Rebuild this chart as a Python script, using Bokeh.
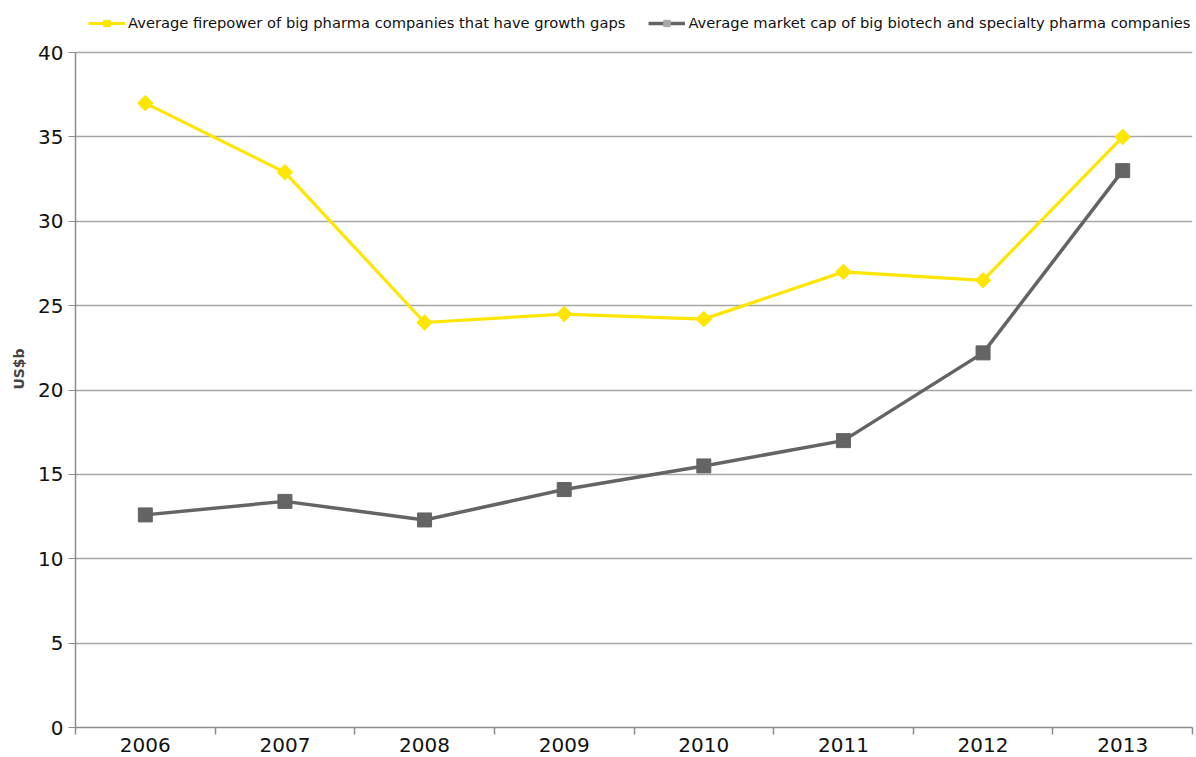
import math
from bokeh.plotting import figure
from bokeh.models import (Range1d, FixedTicker, Legend, LegendItem)
from bokeh.embed import file_html
from bokeh.resources import INLINE

years = ["2006", "2007", "2008", "2009", "2010", "2011", "2012", "2013"]
firepower = [37.0, 32.9, 24.0, 24.5, 24.2, 27.0, 26.5, 35.0]
market_cap = [12.6, 13.4, 12.3, 14.1, 15.5, 17.0, 22.2, 33.0]
y_ticks = [0, 5, 10, 15, 20, 25, 30, 35, 40]

label_firepower = "Average firepower of big pharma companies that have growth gaps"
label_mcap = "Average market cap of big biotech and specialty pharma companies"

YELLOW = "#FFE600"
GRAY = "#646464"
LIGHT = "#A8A8A8"
GRID = "#A6A6A6"
AXIS = "#8C8C8C"

xs = [i + 0.5 for i in range(len(years))]
bounds = list(range(len(years) + 1))

# frame spans from the legend strip down to 0; the axis itself stops at 40
FRAME_H = 717
Y_TOP = 40 + 42 / 16.875
p = figure(frame_width=1117, frame_height=FRAME_H, output_backend="svg", toolbar_location=None,
           x_range=Range1d(0, len(years)), y_range=Range1d(0, Y_TOP),
           min_border_left=75, min_border_right=2, min_border_top=10, min_border_bottom=0)
p.outline_line_color = None
p.background_fill_color = "white"
p.border_fill_color = "white"

# y axis
ya = p.yaxis[0]
ya.ticker = FixedTicker(ticks=y_ticks)
ya.bounds = (0, 40)
ya.axis_label = "US$b"
ya.axis_label_text_font = "DejaVu Sans"
ya.axis_label_text_font_style = "bold"
ya.axis_label_text_font_size = "14px"
ya.axis_label_standoff = 8
ya.major_label_text_font = "DejaVu Sans"
ya.major_label_text_font_size = "20px"
ya.major_label_text_color = "#111111"
ya.major_label_standoff = 5
ya.axis_line_color = AXIS
ya.axis_line_width = 1.5
ya.major_tick_line_color = AXIS
ya.major_tick_out = 7
ya.major_tick_in = 0
ya.minor_tick_line_color = None

p.ygrid.ticker = FixedTicker(ticks=y_ticks[1:])
p.ygrid.grid_line_color = GRID
p.ygrid.grid_line_width = 1.5
p.xgrid.visible = False

# x axis: labels at category centres, ticks at category boundaries
xa = p.xaxis[0]
xa.ticker = FixedTicker(ticks=xs, minor_ticks=bounds)
xa.major_label_overrides = {x: y for x, y in zip(xs, years)}
xa.major_label_text_font = "DejaVu Sans"
xa.major_label_text_font_size = "20px"
xa.major_label_text_color = "#111111"
xa.major_label_standoff = 3
xa.axis_line_color = AXIS
xa.axis_line_width = 1.5
xa.major_tick_line_color = None
xa.major_tick_out = 2
xa.major_tick_in = 0
xa.minor_tick_line_color = AXIS
xa.minor_tick_line_width = 1.5
xa.minor_tick_out = 7
xa.minor_tick_in = 0

# series
l1 = p.line(xs, firepower, line_color=YELLOW, line_width=3.2)
m1 = p.scatter(xs, firepower, marker="square", size=11, angle=math.pi / 4,
               fill_color=YELLOW, line_color=YELLOW)
l2 = p.line(xs, market_cap, line_color=GRAY, line_width=3.5)
m2 = p.scatter(xs, market_cap, marker="square", size=14, fill_color=GRAY, line_color=GRAY)

# legend-only glyphs (placed outside the visible range)
lg1 = p.scatter([-100], [-100], marker="square", size=5, angle=math.pi / 4,
                fill_color=YELLOW, line_color=YELLOW)
lg2 = p.scatter([-100], [-100], marker="square", size=8, fill_color=LIGHT, line_color=LIGHT)

legend = Legend(items=[LegendItem(label=label_firepower, renderers=[l1, lg1]),
                       LegendItem(label=label_mcap, renderers=[l2, lg2])],
                orientation="horizontal", location=(13, FRAME_H - 21))
legend.label_text_font = "DejaVu Sans"
legend.label_text_font_size = "14.7px"
legend.label_text_color = "#111111"
legend.glyph_width = 37
legend.glyph_height = 16
legend.label_standoff = 3
legend.spacing = 23
legend.padding = 0
legend.margin = 0
legend.border_line_color = None
legend.background_fill_alpha = 0
p.add_layout(legend, "center")

open("out.html", "w").write(file_html(p, INLINE))
